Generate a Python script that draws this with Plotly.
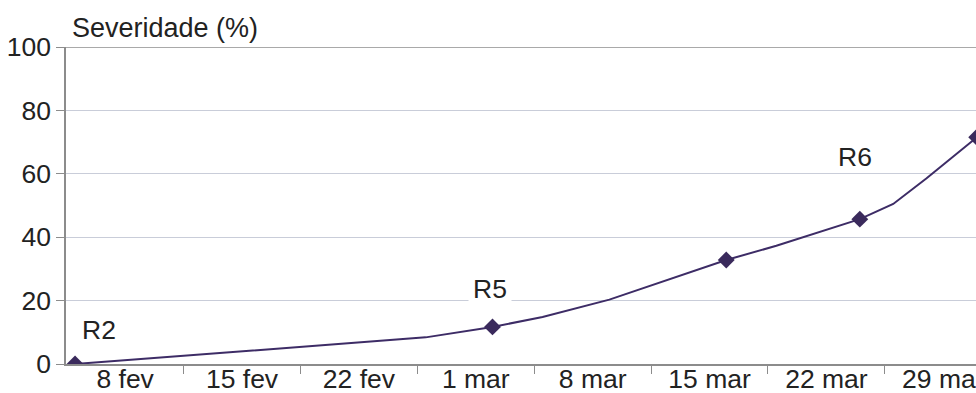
import plotly.graph_objects as go

# Disease severity curve (daily-ish readings) and the assessment dates marked on it
curve_dates = ["2010-02-05", "2010-02-08", "2010-02-12", "2010-02-19", "2010-02-26",
               "2010-03-02", "2010-03-05", "2010-03-09", "2010-03-13", "2010-03-16",
               "2010-03-19", "2010-03-24", "2010-03-26", "2010-03-28", "2010-03-31"]
curve_values = [0, 1.2, 3.0, 5.6, 8.4, 11.7, 14.8, 20.3, 27.5, 32.8, 37.3, 45.7, 50.5, 58.6, 71.5]

marker_dates = ["2010-02-05", "2010-03-02", "2010-03-16", "2010-03-24", "2010-03-31"]
marker_values = [0, 11.7, 32.8, 45.7, 71.5]

# Application labels: (text, date, severity position)
labels = ["R2", "R5", "R6"]
label_dates = ["2010-02-06 10:00", "2010-03-01 21:00", "2010-03-23 17:00"]
label_values = [10.7, 23.7, 65.3]

tick_dates = ["2010-02-08", "2010-02-15", "2010-02-22", "2010-03-01",
              "2010-03-08", "2010-03-15", "2010-03-22", "2010-03-29"]
tick_labels = ["8 fev", "15 fev", "22 fev", "1 mar", "8 mar", "15 mar", "22 mar", "29 mar"]
boundary_dates = ["2010-02-11 12:00", "2010-02-18 12:00", "2010-02-25 12:00", "2010-03-04 12:00",
                  "2010-03-11 12:00", "2010-03-18 12:00", "2010-03-25 12:00"]

FONT = "Liberation Sans, Arial, sans-serif"
TEXT = "#222222"
AXIS = "#8c8c8c"
LINE = "#3d2c66"
FS = 26.5

fig = go.Figure()
fig.add_trace(go.Scatter(x=curve_dates, y=curve_values, mode="lines",
                         line=dict(color=LINE, width=2), hoverinfo="skip"))
fig.add_trace(go.Scatter(x=marker_dates, y=marker_values, mode="markers",
                         marker=dict(symbol="diamond", size=13, color="#3a2a5c")))

for t, d, v in zip(labels, label_dates, label_values):
    fig.add_annotation(x=d, y=v, text=t, showarrow=False, xanchor="center", yanchor="middle",
                       font=dict(family=FONT, size=FS, color=TEXT),
                       bgcolor="white" if t == "R5" else None, borderpad=4)

fig.add_annotation(xref="paper", yref="paper", x=0.0044, y=1.06, text="Severidade (%)",
                   showarrow=False, xanchor="left", yanchor="middle",
                   font=dict(family=FONT, size=27, color=TEXT))

# top frame line
fig.add_shape(type="line", xref="paper", yref="y", x0=0, x1=1, y0=100, y1=100,
              line=dict(color=AXIS, width=1.5))

fig.update_layout(
    width=976, height=393,
    margin=dict(l=66, r=0, t=47, b=29, autoexpand=False),
    paper_bgcolor="white", plot_bgcolor="white",
    showlegend=False,
    font=dict(family=FONT, size=FS, color=TEXT),
    xaxis=dict(type="date", range=["2010-02-04 11:00", "2010-03-30 23:00"],
               tickmode="array", tickvals=tick_dates, ticktext=tick_labels,
               ticks="", showgrid=False, zeroline=False, automargin=False,
               ticklabeloverflow="allow", ticklabelstandoff=-10,
               showline=True, linecolor=AXIS, linewidth=1.5,
               tickfont=dict(family=FONT, size=FS, color=TEXT),
               minor=dict(tickmode="array", tickvals=boundary_dates, ticks="outside",
                          ticklen=8, tickcolor=AXIS, tickwidth=1, showgrid=False)),
    yaxis=dict(range=[0, 100], tickvals=[0, 20, 40, 60, 80, 100], automargin=False,
               ticks="outside", ticklen=8, tickcolor=AXIS, tickwidth=1,
               showgrid=True, gridcolor="#c9cdd9", gridwidth=1, zeroline=False,
               showline=True, linecolor=AXIS, linewidth=1.5,
               tickfont=dict(family=FONT, size=FS, color=TEXT)),
)

fig.write_html("out.html")
